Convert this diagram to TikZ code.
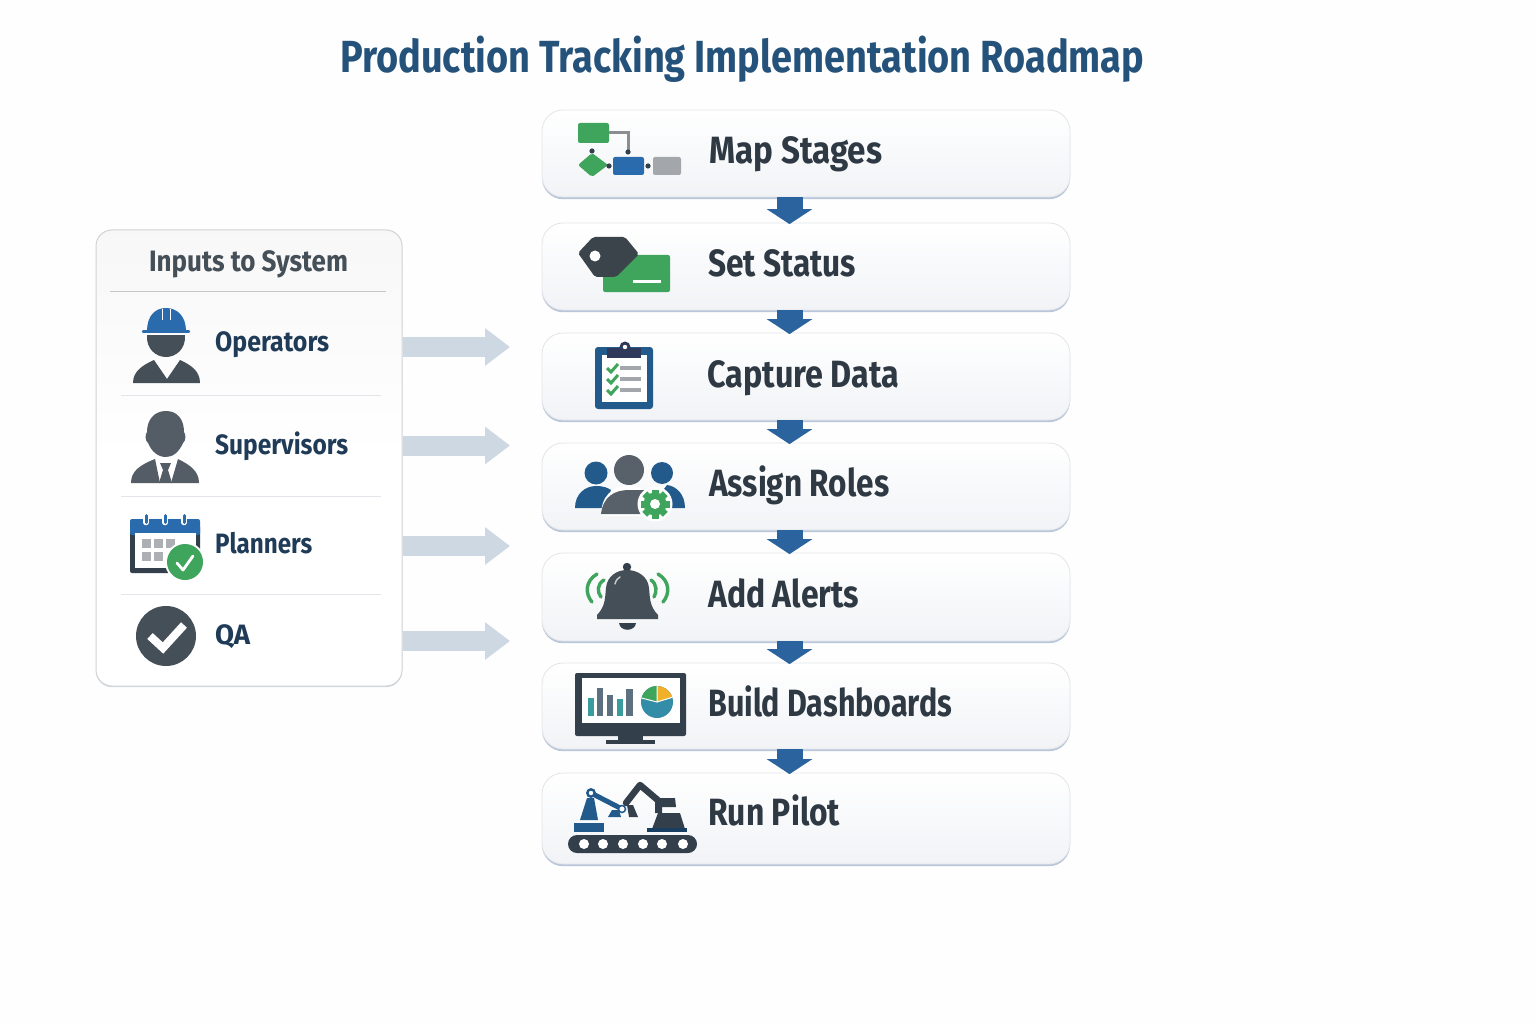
\documentclass[tikz,border=0pt]{standalone}
\usepackage{graphicx}
\usepackage{fontspec}
\setmainfont[FakeStretch=0.84,BoldFeatures={FakeStretch=0.84}]{Fira Sans}
\usetikzlibrary{arrows.meta,shadows}
\newcommand{\fitto}[2]{\resizebox{#1pt}{\height}{#2}}
\definecolor{ink}{HTML}{2E3943}
\definecolor{navy}{HTML}{1F3B57}
\definecolor{titleblue}{HTML}{25527A}
\definecolor{flowblue}{HTML}{2B639E}
\definecolor{icblue}{HTML}{2A6BAE}
\definecolor{icnavy}{HTML}{235A8C}
\definecolor{icgreen}{HTML}{3FA45C}
\definecolor{icdark}{HTML}{454F58}
\definecolor{icdeep}{HTML}{333F4A}
\definecolor{icgray}{HTML}{A3A7AB}
\definecolor{icteal}{HTML}{3A9C9C}
\definecolor{icslate}{HTML}{5C7080}
\definecolor{inarrow}{HTML}{CDD8E2}
\definecolor{rule}{HTML}{E2E5E9}
\definecolor{stepbottom}{HTML}{F1F3F6}
\definecolor{stepshade}{HTML}{B9C6DA}
\definecolor{panelshade}{HTML}{D3D9E0}
\definecolor{pieamber}{HTML}{F0B02A}
\tikzset{
  x=1pt,y=-1pt,
  stepbox/.style={draw=rule,line width=0.8pt,rounded corners=21pt,minimum width=528pt,inner sep=0pt,
    top color=white,bottom color=stepbottom,
    copy shadow={shadow xshift=0pt,shadow yshift=-2.2pt,fill=stepshade,draw=none}},
  panel/.style={draw=rule!92!black,line width=1pt,rounded corners=16pt,minimum width=306pt,minimum height=456pt,inner sep=0pt,
    top color=black!3!white,bottom color=white,middle color=white,
    copy shadow={shadow xshift=0pt,shadow yshift=-1.2pt,fill=panelshade,draw=none}},
  steplabel/.style={anchor=base west,inner sep=0pt,font=\fontsize{38}{40}\selectfont\bfseries,text=ink},
  inlabel/.style={anchor=base west,inner sep=0pt,font=\fontsize{28}{30}\selectfont\bfseries,text=navy},
  flow/.style={draw=flowblue,line width=26pt,-{Triangle[width=45pt,length=15pt,fill=flowblue]}},
  feed/.style={draw=inarrow,line width=20pt,-{Triangle[width=36pt,length=25pt,fill=inarrow]}},
  divider/.style={draw=rule,line width=1pt},
  wire/.style={line cap=round,line join=round},
}
\begin{document}
\begin{tikzpicture}
\useasboundingbox (0,0) rectangle (1536,1024);
\fill[white!99.5!black] (0,0) rectangle (1536,1024);

\node[anchor=base west,inner sep=0pt,font=\fontsize{45}{48}\selectfont\bfseries,text=titleblue] (title) at (340,73) {\fitto{804}{Production Tracking Implementation Roadmap}};

% step boxes
\node[stepbox,minimum height=87pt] (s1) at (806,153.5) {};
\node[stepbox,minimum height=87pt] (s2) at (806,266.5) {};
\node[stepbox,minimum height=87pt] (s3) at (806,376.5) {};
\node[stepbox,minimum height=87pt] (s4) at (806,486.5) {};
\node[stepbox,minimum height=88pt] (s5) at (806,597) {};
\node[stepbox,minimum height=86pt] (s6) at (806,706) {};
\node[stepbox,minimum height=91pt] (s7) at (806,818.5) {};

\foreach \a/\b in {s1/s2,s2/s3,s3/s4,s4/s5,s5/s6,s6/s7}
  \draw[flow] ([xshift=-16.5pt]\a.south) -- ([xshift=-16.5pt,yshift=-1.5pt]\b.north);

\node[steplabel] (t1) at (709,164) {\fitto{173}{Map Stages}};
\node[steplabel] (t2) at (708,276.5) {\fitto{148}{Set Status}};
\node[steplabel] (t3) at (707,387.5) {\fitto{192}{Capture Data}};
\node[steplabel] (t4) at (709,496.5) {\fitto{180}{Assign Roles}};
\node[steplabel] (t5) at (708,607.5) {\fitto{151}{Add Alerts}};
\node[steplabel] (t6) at (708,716.5) {\fitto{244}{Build Dashboards}};
\node[steplabel] (t7) at (708,825.5) {\fitto{132}{Run Pilot}};

% inputs panel
\node[panel] (p) at (249,458) {};
\node[anchor=base,inner sep=0pt,font=\fontsize{29.5}{32}\selectfont\bfseries,text=icdark] (ptitle) at (248.5,272) {\fitto{199}{Inputs to System}};
\coordinate (h0) at (110,291); \coordinate (h1) at (386,291);
\draw[divider,draw=black!22!white] (h0) -- (h1);
\foreach \y in {395,496,594} {\draw[divider] (121,\y) -- (381,\y);}

\node[inlabel] (l1) at (215,351) {\fitto{114}{Operators}};
\node[inlabel] (l2) at (215,454) {\fitto{133}{Supervisors}};
\node[inlabel] (l3) at (215,553) {\fitto{97}{Planners}};
\node[inlabel] (l4) at (215,644) {\fitto{35}{QA}};

\coordinate (a1) at (510,347); \coordinate (a2) at (510,445.5); \coordinate (a3) at (510,546); \coordinate (a4) at (510,641);
\foreach \n in {1,2,3,4} \draw[feed] (a\n -| p.east) -- (a\n);

% ---- icon: map stages
\fill[icgreen,rounded corners=2pt] (578,123) rectangle (609,143);
\draw[draw=icgray!85!black,line width=3pt] (609,133) -- (628,133) -- (628,152);
\fill[icgreen,rounded corners=2pt] (592,153) -- (608,165) -- (592,177) -- (578,165) -- cycle;
\fill[icblue,rounded corners=2pt] (613,157) rectangle (644,175);
\fill[icgray,rounded corners=2pt] (653,157) rectangle (681,175);
\foreach \q/\w in {592/151,628/152,609/166,648/166} \fill[icdeep] (\q,\w) circle[radius=2.6];

% ---- icon: set status
\fill[icgreen,rounded corners=2pt] (603,255) rectangle (670,292);
\fill[white] (633,280) rectangle (661,283);
\fill[icdark!85!black,rounded corners=2pt] (578,253) -- (593,237) -- (625,237) -- (639,254) -- (616,277) -- (595,277) -- cycle;
\fill[white] (595,256) circle[radius=5.5];

% ---- icon: capture data
\fill[icnavy,rounded corners=3pt] (595,347) rectangle (653,409);
\fill[white] (602,355) rectangle (647,402);
\fill[icdeep!90!blue] (607,348) rectangle (641,358);
\fill[icdeep!90!blue] (625,347) circle[radius=5.5];
\fill[white] (625,347) circle[radius=2.2];
\foreach \w in {368,379,390} {
  \draw[icgreen,line width=3pt] (607,\w) -- (611,\w+4) -- (618,\w-4);
  \draw[icgray,line width=3.4pt] (620,\w) -- (641,\w);
}

% ---- icon: assign roles
\fill[icnavy] (596,473) circle[radius=11.5];
\fill[icnavy] (575,508) .. controls (575,494) and (585,486) .. (596,486) .. controls (604,486) and (608,488) .. (611,490) -- (604,508) -- cycle;
\fill[icnavy] (662,473) circle[radius=11];
\fill[icnavy] (685,508) .. controls (685,494) and (676,486) .. (667,485) -- (650,508) -- cycle;
\fill[white] (601,516) .. controls (601,496) and (612,486) .. (629,486) .. controls (646,486) and (657,496) .. (657,516) -- cycle;
\fill[icdark!90!white] (629,470) circle[radius=15];
\fill[icdark!90!white] (601,514) .. controls (603,497) and (614,490) .. (629,490) -- (645,490) -- (645,514) -- cycle;
\fill[white] (655,504) circle[radius=17.5];
\foreach \g in {0,45,...,135} \fill[icgreen,rotate around={\g:(655,504)}] (651.5,489.5) rectangle (658.5,518.5);
\fill[icgreen] (655,504) circle[radius=11.5];
\fill[white] (655,504) circle[radius=5];

% ---- icon: add alerts
\fill[icdeep] (627,567) circle[radius=4.2];
\fill[icdark] (597,615) .. controls (606,606) and (605,596) .. (606,588) .. controls (607,576) and (617,570) .. (627,570) .. controls (637,570) and (648,576) .. (649,588) .. controls (650,596) and (649,606) .. (658,615) -- (658,619) -- (597,619) -- cycle;
\fill[icdeep] (619,623) -- (636,623) .. controls (635,632) and (620,632) .. (619,623) -- cycle;
\draw[white!70!icdark,line width=1.5pt,wire] (615,584) .. controls (616,580) and (618,578) .. (620,577);
\draw[icgreen,line width=3.4pt,wire] (597,574) .. controls (585,581) and (585,594) .. (592,602);
\draw[icgreen,line width=3.4pt,wire] (604,580) .. controls (597,584) and (597,592) .. (601,597);
\draw[icgreen,line width=3.4pt,wire] (658,574) .. controls (670,581) and (670,594) .. (663,602);
\draw[icgreen,line width=3.4pt,wire] (651,580) .. controls (657,584) and (657,592) .. (654,597);

% ---- icon: build dashboards
\fill[icdeep,rounded corners=2pt] (575,673) rectangle (686,736);
\fill[white] (582,678) rectangle (680,723);
\fill[icdeep] (618,736) rectangle (643,740);
\fill[icdeep] (606,740) rectangle (655,744);
\fill[icteal] (588,698) rectangle (594,716);
\fill[icslate] (597,688) rectangle (603,716);
\fill[icslate] (607,695) rectangle (613,716);
\fill[icteal] (617,699) rectangle (623,716);
\fill[icslate] (626,689) rectangle (633,716);
\fill[icteal!90!blue] (657,702) circle[radius=16];
\fill[icgreen] (657,702) -- (641.5,698) arc[start angle=-166,end angle=-90,radius=16] -- cycle;
\fill[pieamber] (657,702) -- (657,686) arc[start angle=-90,end angle=-17,radius=16] -- cycle;
\draw[white,line width=1pt] (641.5,698) -- (657,702) -- (657,686);
\draw[white,line width=1pt] (657,702) -- (672.3,697.3);

% ---- icon: run pilot
\fill[icdeep,rounded corners=9pt] (568,835) rectangle (697,853);
\foreach \q in {584,603,623,643,662,683} \fill[white] (\q,844) circle[radius=5];
\fill[icnavy] (574,823) rectangle (604,832);
\fill[icnavy] (580,820) -- (598,820) -- (594,798) -- (587,798) -- cycle;
\draw[icnavy,line width=5pt,wire] (591,793) -- (622,809);
\fill[icnavy] (591,793) circle[radius=5];
\fill[white] (591,793) circle[radius=2.2];
\fill[icnavy] (608,817) -- (621,817) -- (619,810) -- (612,810) -- cycle;
\draw[icdeep,line width=6.5pt,wire] (626,803) -- (640,785) -- (660,802);
\fill[white] (622,809) circle[radius=3];
\draw[icnavy,line width=1.5pt] (622,809) circle[radius=3.5];
\fill[icdeep] (627,805) -- (633,805) -- (638,817) -- (629,817) -- cycle;
\fill[icdeep] (655,798) -- (675,798) -- (676,807) -- (662,807) -- (662,813) -- (655,813) -- cycle;
\fill[icdeep] (652,829) -- (658,813) -- (680,813) -- (685,829) -- cycle;
\fill[icnavy!70!black] (647,828) rectangle (687,832);

% ---- icon: operator
\fill[icdark] (147,335) -- (185,335) .. controls (186,349) and (176,357) .. (166,357) .. controls (156,357) and (146,349) .. (147,335) -- cycle;
\fill[icdark] (133,383) .. controls (133,371) and (143,365) .. (154,360) -- (167,379) -- (180,360) .. controls (191,365) and (200,371) .. (200,383) -- cycle;
\fill[icblue] (147,331) .. controls (147,316) and (155,308) .. (166,308) .. controls (177,308) and (186,316) .. (186,331) -- cycle;
\draw[icblue,line width=2.4pt,wire] (143,331.5) -- (189,331.5);
\draw[white,line width=1pt] (162,309) -- (162,320) (170,309) -- (170,320);

% ---- icon: supervisor
\fill[icdark!92!white] (166,411) .. controls (178,411) and (184,420) .. (184,432) .. controls (186,434) and (186,441) .. (183,443) .. controls (179,452) and (173,457) .. (166,457) .. controls (158,457) and (152,452) .. (148,443) .. controls (145,441) and (145,434) .. (147,432) .. controls (147,420) and (154,411) .. (166,411) -- cycle;
\fill[icdark!92!white] (131,483) .. controls (131,471) and (140,465) .. (155,459) -- (160,483) -- cycle;
\fill[icdark!92!white] (199,483) .. controls (199,471) and (190,465) .. (178,459) -- (171,483) -- cycle;
\fill[icdark!92!white] (160,463) -- (171,463) -- (168,470) -- (172,483) -- (159,483) -- (163,470) -- cycle;

% ---- icon: planner
\fill[icdeep,rounded corners=2pt] (130,525) rectangle (200,573);
\fill[icblue,rounded corners=2pt] (130,519) rectangle (200,535);
\fill[white] (135,533) rectangle (196,568);
\foreach \q in {146,165,184} {
  \draw[white,line width=5.5pt,line cap=round] (\q,515.5) -- (\q,522.5);
  \draw[icblue,line width=3pt,line cap=round] (\q,515.5) -- (\q,522.5);
}
\foreach \q/\w in {142/539,154/539,166/539,142/552,154/552} \fill[icgray!90!white] (\q,\w) rectangle +(9,8.5);
\fill[white] (185,562) circle[radius=20];
\fill[icgreen] (185,562) circle[radius=18];
\draw[white,line width=2.8pt,wire] (177,563) -- (183,570) -- (193,556);

% ---- icon: QA
\fill[icdark] (166,636) circle[radius=30];
\draw[white,line width=8pt] (150,636) -- (163,648) -- (184,625);
\end{tikzpicture}
\end{document}
